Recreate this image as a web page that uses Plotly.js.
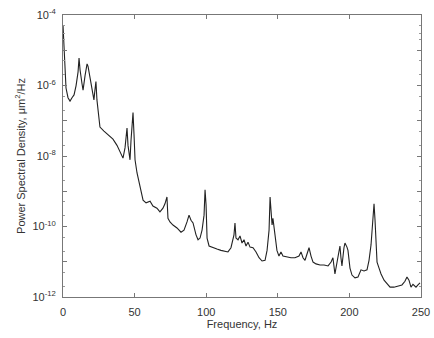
<!DOCTYPE html>
<html>
<head>
<meta charset="utf-8">
<script src="https://cdn.plot.ly/plotly-3.0.1.min.js"></script>
<style>html,body{margin:0;padding:0;background:#fff;}#chart{width:434px;height:338px;}</style>
</head>
<body>
<div id="chart"></div>
<script>
const freq = [0,0.7,1.4,2.1,3.5,4.9,6.3,7.7,9.1,10.5,11.2,11.9,13.3,14.0,15.4,16.8,17.5,18.9,20.3,21.6,22.3,23.0,23.7,24.4,25.8,28.6,31.4,34.9,37.7,39.8,41.9,43.3,44.7,45.4,46.8,47.5,48.9,49.6,50.3,51.7,53.8,55.9,58.0,60.8,62.8,65.6,67.7,69.8,71.2,72.6,73.3,74.7,76.8,79.6,82.4,84.5,86.6,88.0,89.4,90.8,92.9,94.3,95.7,97.1,98.5,99.2,99.9,100.6,102.0,104.7,107.5,110.3,113.1,115.2,117.3,119.4,120.1,120.8,122.2,123.6,125.0,126.4,127.8,129.2,130.6,132.7,134.8,136.9,139.0,141.1,142.5,143.9,144.6,145.3,146.0,146.6,148.0,149.4,150.8,152.2,153.6,156.4,159.2,162.0,164.8,166.2,167.6,169.0,170.4,171.8,173.2,174.6,176.7,179.5,182.3,185.1,187.2,188.5,189.9,191.3,192.7,193.4,194.1,194.8,196.2,196.9,198.3,199.0,200.4,201.8,203.9,206.0,208.1,210.2,212.3,213.7,215.1,215.8,216.5,217.2,217.9,218.6,219.3,220.7,222.1,224.2,226.3,228.4,231.1,233.9,236.7,238.8,240.2,241.6,243.0,244.4,246.5,247.9,249.3];
const psd = [5.2e-5,1.4e-5,2.8e-6,8.5e-7,4.5e-7,3.6e-7,4.5e-7,5.4e-7,9.8e-7,2.4e-6,6.0e-6,2.8e-6,1.1e-6,7.4e-7,1.9e-6,4.1e-6,3.5e-6,1.6e-6,6.6e-7,3.9e-7,7.4e-7,1.3e-6,3.9e-7,2.0e-7,6.6e-8,5.1e-8,4.0e-8,3.0e-8,2.0e-8,1.3e-8,8.7e-9,1.7e-8,6.2e-8,2.0e-8,7.8e-9,2.8e-8,1.7e-7,4.0e-8,7.8e-9,3.3e-9,1.2e-9,5.6e-10,4.7e-10,5.2e-10,3.8e-10,3.3e-10,2.6e-10,3.3e-10,4.4e-10,6.9e-10,1.7e-10,1.35e-10,1.1e-10,9.1e-11,6.9e-11,7.9e-11,1.35e-10,2.1e-10,1.5e-10,1.26e-10,5.8e-11,4.2e-11,4.7e-11,7.9e-11,2.1e-10,1.1e-9,4.1e-10,4.7e-11,2.8e-11,2.5e-11,2.3e-11,2.1e-11,2.0e-11,1.9e-11,2.5e-11,5.8e-11,1.26e-10,4.7e-11,4.2e-11,5.4e-11,3.4e-11,4.2e-11,2.8e-11,3.6e-11,2.6e-11,2.5e-11,1.9e-11,1.3e-11,1.05e-11,1.1e-11,2.1e-11,7.9e-11,6.9e-10,3.0e-10,1.1e-10,1.7e-10,6.9e-11,2.1e-11,1.45e-11,1.9e-11,1.45e-11,1.35e-11,1.3e-11,1.3e-11,1.45e-11,1.9e-11,1.3e-11,1.1e-11,1.8e-11,2.5e-11,1.45e-11,9.8e-12,8.7e-12,8.1e-12,8.1e-12,7.6e-12,9.8e-12,1.3e-11,4.5e-12,9.8e-12,1.9e-11,2.8e-11,1.3e-11,7.6e-12,2.5e-11,3.4e-11,2.6e-11,2.1e-11,6.6e-12,4.2e-12,3.5e-12,3.7e-12,5.9e-12,5.5e-12,5.9e-12,1.1e-11,3.0e-11,7.9e-11,3.0e-10,4.4e-10,1.5e-10,3.0e-11,9.8e-12,6.6e-12,4.5e-12,3.0e-12,2.3e-12,1.9e-12,1.9e-12,2.0e-12,2.2e-12,2.8e-12,3.7e-12,3.0e-12,1.9e-12,2.3e-12,1.9e-12,2.2e-12,2.5e-12];
const xTicks = [0,50,100,150,200,250];
const yTickVals = [1e-4,1e-5,1e-6,1e-7,1e-8,1e-9,1e-10,1e-11,1e-12];
const yTickText = ['10<sup>-4</sup>','','10<sup>-6</sup>','','10<sup>-8</sup>','','10<sup>-10</sup>','','10<sup>-12</sup>'];

const font = {family: 'Liberation Sans, Arial, sans-serif', size: 11, color: '#333'};
Plotly.newPlot('chart', [{
  x: freq, y: psd, type: 'scatter', mode: 'lines',
  line: {color: '#222', width: 1.1}, hoverinfo: 'skip'
}], {
  width: 434, height: 338,
  margin: {l: 63, r: 13, t: 15, b: 41},
  paper_bgcolor: '#fff', plot_bgcolor: '#fff',
  showlegend: false,
  font: font,
  xaxis: {
    range: [0, 250], tickvals: xTicks, ticks: 'inside', ticklen: 4,
    showline: true, mirror: 'ticks', linecolor: '#777', linewidth: 1, tickcolor: '#777',
    showgrid: false, zeroline: false, ticklabelstandoff: 5,
    title: {text: 'Frequency, Hz', font: font, standoff: 2},
    tickfont: font
  },
  yaxis: {
    type: 'log', range: [-12, -4], tickvals: yTickVals, ticktext: yTickText,
    ticks: 'inside', ticklen: 4,
    showline: true, mirror: 'ticks', linecolor: '#777', linewidth: 1, tickcolor: '#777',
    showgrid: false, zeroline: false, ticklabelstandoff: 4,
    minor: {ticks: 'inside', ticklen: 2, tickcolor: '#999', tickvals: [2e-5,3e-5,5e-5,2e-6,5e-6,2e-7,5e-7,2e-8,5e-8,2e-9,5e-9,2e-10,5e-10,2e-11,5e-11,2e-12,5e-12]},
    title: {text: 'Power Spectral Density, μm<sup>2</sup>/Hz', font: font, standoff: 4},
    tickfont: font
  }
}, {displayModeBar: false, staticPlot: true});
</script>
</body>
</html>
